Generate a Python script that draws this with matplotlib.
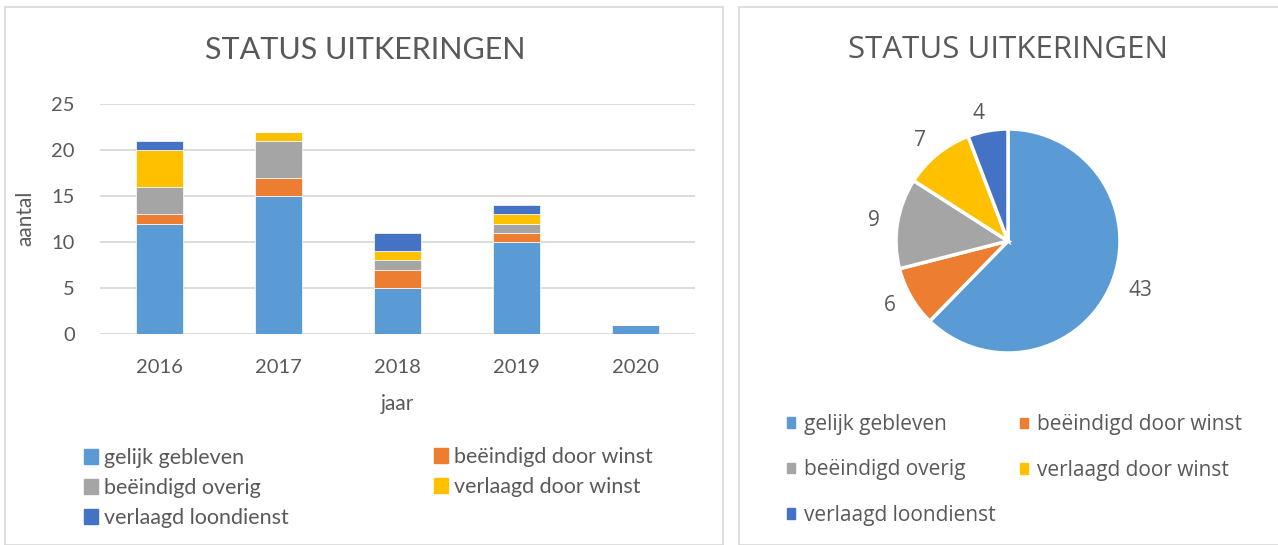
import matplotlib
matplotlib.use("Agg")
import matplotlib.pyplot as plt
from matplotlib.patches import Rectangle, Patch

# data
jaren = ["2016", "2017", "2018", "2019", "2020"]
gelijk = [12, 15, 5, 10, 1]
beeindigd_winst = [1, 2, 2, 1, 0]
beeindigd_overig = [3, 4, 1, 1, 0]
verlaagd_winst = [4, 1, 1, 1, 0]
verlaagd_loondienst = [1, 0, 2, 1, 0]
series_names = ["gelijk gebleven", "beëindigd door winst", "beëindigd overig",
                "verlaagd door winst", "verlaagd loondienst"]
totalen = [43, 6, 9, 7, 4]

kleuren = ["#5B9BD5", "#ED7D31", "#A5A5A5", "#FFC000", "#4472C4"]
tekst = "#595959"

fig = plt.figure(figsize=(12.78, 5.45), dpi=100)
W, H = 1278, 545

def fx(px):
    return px / W

def fy(py):
    return 1 - py / H

# panel frames
fig.patches.append(Rectangle((fx(5), fy(545)), fx(718), 538 / H, transform=fig.transFigure,
                             fill=False, edgecolor="#D9D9D9", lw=1.2))
fig.patches.append(Rectangle((fx(739), fy(545)), fx(600), 538 / H, transform=fig.transFigure,
                             fill=False, edgecolor="#D9D9D9", lw=1.2))

# legend columns placed by hand (x of patch, y of column centre)
def kolom(items, x0, y0, size, fam, hl, pad, spacing):
    hs = [Patch(color=kleuren[i]) for i in items]
    lg = fig.legend(hs, [series_names[i] for i in items], loc="center left",
                    bbox_to_anchor=(fx(x0), fy(y0)), frameon=False,
                    handlelength=hl, handleheight=hl, handletextpad=pad,
                    labelspacing=spacing, borderpad=0, borderaxespad=0,
                    prop={"family": fam, "size": size})
    for t in lg.get_texts():
        t.set_color(tekst)
    return lg

# ---- stacked bar chart
ax = fig.add_axes([fx(100), fy(334), fx(595), 230 / H])
series = [gelijk, beeindigd_winst, beeindigd_overig, verlaagd_winst, verlaagd_loondienst]
x = list(range(len(jaren)))
bottom = [0] * len(jaren)
for vals, name, c in zip(series, series_names, kleuren):
    ax.bar(x, vals, 0.4, bottom=bottom, color=c, label=name, zorder=3,
           edgecolor="white", linewidth=0.5)
    bottom = [a + v for a, v in zip(bottom, vals)]

ax.set_xlim(-0.5, 4.5)
ax.set_ylim(0, 25)
ax.set_yticks([0, 5, 10, 15, 20, 25])
ax.set_xticks(x)
ax.set_xticklabels(jaren)
ax.grid(axis="y", color="#D9D9D9", lw=1.3, zorder=0)
for s in ax.spines.values():
    s.set_visible(False)
ax.tick_params(length=0, labelsize=14.5, colors=tekst)
ax.tick_params(axis="y", pad=18)
ax.tick_params(axis="x", pad=18)
for lab in ax.get_xticklabels() + ax.get_yticklabels():
    lab.set_family("Lato")
fig.text(fx(397), fy(404), "jaar", ha="center", va="center", fontsize=15,
         color=tekst, family="Lato")
fig.text(fx(25), fy(218), "aantal", ha="center", va="center", rotation=90,
         fontsize=15, color=tekst, family="Lato")
fig.text(fx(365), fy(50), "STATUS UITKERINGEN", ha="center", va="center",
         fontsize=22, color=tekst, family="Lato")

# rows at 457 / 487 / 517
kolom([0, 2, 4], 84, 488, 15.5, "Lato", 0.65, 0.3, 0.46)
kolom([1, 3], 434, 472, 15.5, "Lato", 0.65, 0.3, 0.46)

# ---- pie chart
R = 112
pax = fig.add_axes([fx(1008 - R), fy(241 + R), fx(2 * R), 2 * R / H])
wedges, labels = pax.pie(totalen, colors=kleuren, startangle=90, counterclock=False,
                         labels=[str(v) for v in totalen], labeldistance=1.16,
                         wedgeprops={"edgecolor": "white", "linewidth": 2.5},
                         textprops={"fontsize": 15, "color": tekst, "family": "Open Sans"})
pax.set_xlim(-1, 1)
pax.set_ylim(-1, 1)
pax.set_aspect("equal")
fig.text(fx(1008), fy(50), "STATUS UITKERINGEN", ha="center", va="center",
         fontsize=22.5, color=tekst, family="Open Sans")

# rows at 423 / 468 / 513
kolom([0, 2, 4], 787, 470, 15, "Open Sans", 0.4, 0.4, 1.18)
kolom([1, 3], 1020, 447.5, 15, "Open Sans", 0.4, 0.4, 1.18)

fig.savefig("out.png", dpi=100)
